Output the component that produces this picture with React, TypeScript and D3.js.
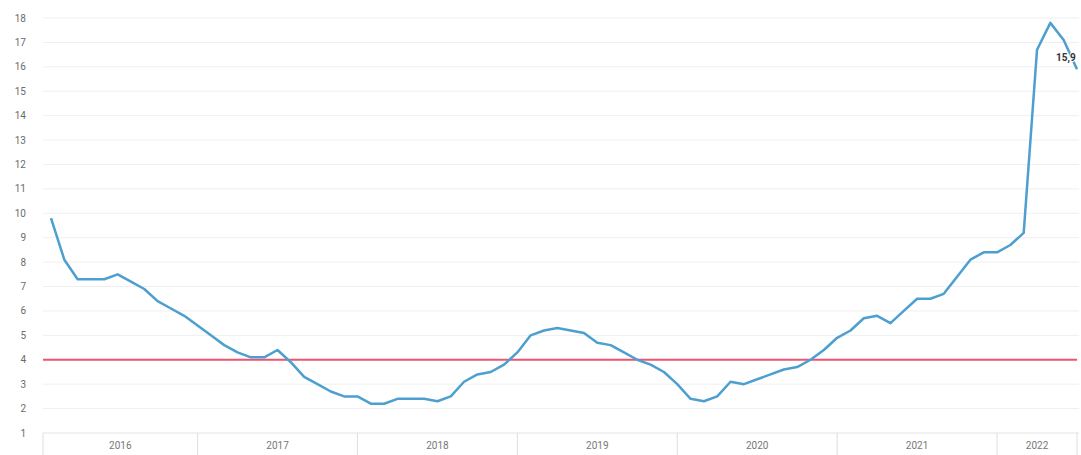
import React from "react";
import * as d3 from "d3";

// Monthly inflation, % y/y, Jan 2016 – Jun 2022
const years = ["2016", "2017", "2018", "2019", "2020", "2021", "2022"];
const values2016 = [9.8, 8.1, 7.3, 7.3, 7.3, 7.5, 7.2, 6.9, 6.4, 6.1, 5.8, 5.4];
const values2017 = [5.0, 4.6, 4.3, 4.1, 4.1, 4.4, 3.9, 3.3, 3.0, 2.7, 2.5, 2.5];
const values2018 = [2.2, 2.2, 2.4, 2.4, 2.4, 2.3, 2.5, 3.1, 3.4, 3.5, 3.8, 4.3];
const values2019 = [5.0, 5.2, 5.3, 5.2, 5.1, 4.7, 4.6, 4.3, 4.0, 3.8, 3.5, 3.0];
const values2020 = [2.4, 2.3, 2.5, 3.1, 3.0, 3.2, 3.4, 3.6, 3.7, 4.0, 4.4, 4.9];
const values2021 = [5.2, 5.7, 5.8, 5.5, 6.0, 6.5, 6.5, 6.7, 7.4, 8.1, 8.4, 8.4];
const values2022 = [8.7, 9.2, 16.7, 17.8, 17.1, 15.9];
const target = 4;
const yTicks = d3.range(1, 19);

const series = [
  values2016, values2017, values2018, values2019,
  values2020, values2021, values2022,
];
const values = series.flat();
const lastLabel = "15,9";

const W = 1081;
const H = 455;

export default function App() {
  const plotLeft = 43;
  const plotRight = 1077;
  const x = d3.scaleLinear().domain([0, values.length - 1]).range([51, 1077]);
  const y = d3.scaleLinear().domain([1, 18]).range([433, 18]);

  const line = d3
    .line<number>()
    .x((_, i) => x(i))
    .y((d) => y(d));

  // Year bands: each year ends at its December point
  let offset = 0;
  const bands = series.map((s, k) => {
    const start = k === 0 ? plotLeft : x(offset - 1);
    offset += s.length;
    const end = k === series.length - 1 ? plotRight : x(offset - 1);
    return { year: years[k], start, end };
  });

  const lastI = values.length - 1;

  return (
    <svg
      width={W}
      height={H}
      style={{ position: "absolute", left: 0, top: 0, background: "#fff" }}
      fontFamily="Roboto, 'Open Sans', sans-serif"
    >
      {yTicks.map((t) => (
        <g key={t}>
          <line
            x1={plotLeft}
            x2={1079}
            y1={y(t)}
            y2={y(t)}
            stroke={t === 1 ? "#e3e3e3" : "#efefef"}
            strokeWidth={1}
          />
          <text
            x={26}
            y={y(t)}
            dy="0.35em"
            textAnchor="end"
            fontSize={10}
            fill="#6b6b6b"
          >
            {t}
          </text>
        </g>
      ))}

      {bands.map((b, k) => (
        <g key={b.year}>
          {k === 0 && (
            <line x1={b.start} x2={b.start} y1={y(1)} y2={H} stroke="#dedede" />
          )}
          <line x1={b.end} x2={b.end} y1={y(1)} y2={H} stroke="#dedede" />
          <text
            x={(b.start + b.end) / 2}
            y={449}
            textAnchor="middle"
            fontSize={10}
            fill="#777"
          >
            {b.year}
          </text>
        </g>
      ))}

      <line
        x1={plotLeft}
        x2={plotRight}
        y1={y(target)}
        y2={y(target)}
        stroke="#f0536f"
        strokeWidth={2}
      />

      <path
        d={line(values) ?? ""}
        fill="none"
        stroke="#4d9fd0"
        strokeWidth={2.5}
        strokeLinejoin="round"
      />

      <text
        x={x(lastI) - 21}
        y={y(values[lastI]) - 8}
        fontSize={10}
        fontWeight="bold"
        fill="#333"
        stroke="#fff"
        strokeWidth={2}
        paintOrder="stroke"
      >
        {lastLabel}
      </text>
    </svg>
  );
}
